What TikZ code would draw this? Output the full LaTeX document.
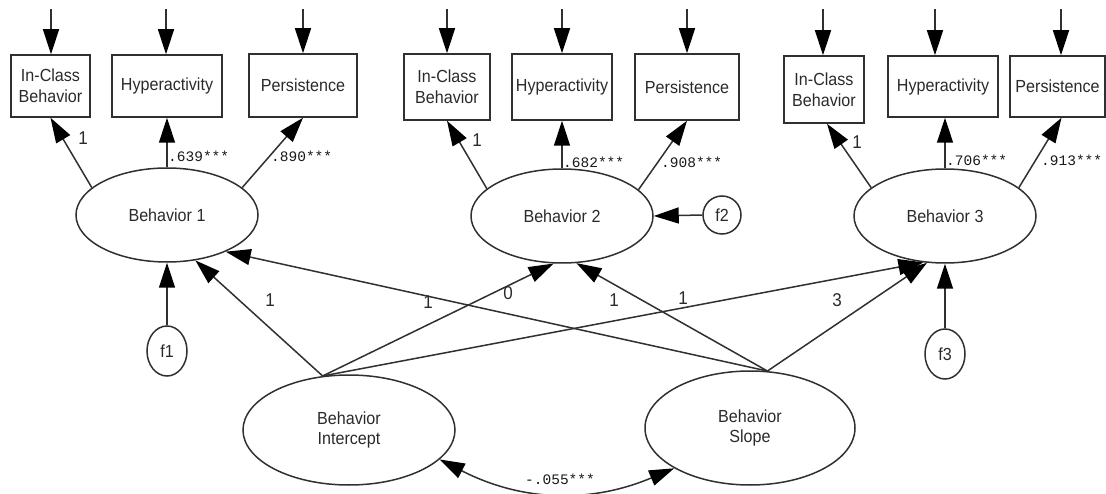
\documentclass[tikz,border=0pt]{standalone}
\usepackage{fontspec}
\setmainfont{Liberation Sans}
\newfontfamily\narrowsf{Liberation Sans}[FakeStretch=0.92]
\newfontfamily\monof{Liberation Mono}
\usetikzlibrary{arrows.meta,shapes.geometric}
\definecolor{lc}{HTML}{303030}
\definecolor{tc}{HTML}{2A2A2A}
\begin{document}
\begin{tikzpicture}[x=1pt,y=-1pt,
  ln/.style={draw=lc,line width=1.5pt},
  tip/.tip={Triangle[length=25pt,width=16pt,fill=black,color=black]},
  arr/.style={ln,-tip},
  dblarr/.style={ln,tip-tip},
  obs/.style={rectangle,draw=lc,line width=1.5pt,inner sep=0pt,text=tc,
    font=\narrowsf\fontsize{17.5}{21}\selectfont,align=center},
  lat/.style={ellipse,draw=lc,line width=1.5pt,inner sep=0pt,text=tc,
    font=\narrowsf\fontsize{17.5}{20}\selectfont,align=center},
  coef/.style={text=tc,font=\narrowsf\fontsize{18.5}{20}\selectfont,inner sep=0pt},
  load/.style={text=black!90,font=\monof\fontsize{14.5}{16}\selectfont,inner sep=0pt,anchor=west},
]
\useasboundingbox (0,0) rectangle (1106,494);

% ---------- observed indicators ----------
\node[obs,minimum width=79pt,minimum height=62pt] (ic1) at (50.5,86) {In-Class\\Behavior};
\node[obs,minimum width=110pt,minimum height=62pt] (hy1) at (167,86) {Hyperactivity};
\node[obs,minimum width=108pt,minimum height=63pt] (pe1) at (303,85.5) {Persistence};

\node[obs,minimum width=86pt,minimum height=66pt] (ic2) at (447,87) {In-Class\\Behavior};
\node[obs,minimum width=100pt,minimum height=66pt] (hy2) at (562,87) {Hyperactivity};
\node[obs,minimum width=104pt,minimum height=66pt] (pe2) at (687,87) {Persistence};

\node[obs,minimum width=80pt,minimum height=67pt] (ic3) at (824,89.5) {In-Class\\Behavior};
\node[obs,minimum width=110pt,minimum height=61pt] (hy3) at (943,86.5) {Hyperactivity};
\node[obs,minimum width=95pt,minimum height=61pt] (pe3) at (1057.5,86.5) {Persistence};

% ---------- residual arrows on indicators ----------
\coordinate (t1) at (51,9);
\coordinate (t2) at (166,9);
\coordinate (t3) at (303,9);
\coordinate (t4) at (447,9);
\coordinate (t5) at (562,9);
\coordinate (t6) at (687,9);
\coordinate (t7) at (823,9);
\coordinate (t8) at (935,9);
\coordinate (t9) at (1061,9);
\draw[arr] (t1) -- (t1 |- ic1.north);
\draw[arr] (t2) -- (t2 |- hy1.north);
\draw[arr] (t3) -- (t3 |- pe1.north);
\draw[arr] (t4) -- (t4 |- ic2.north);
\draw[arr] (t5) -- (t5 |- hy2.north);
\draw[arr] (t6) -- (t6 |- pe2.north);
\draw[arr] (t7) -- (t7 |- ic3.north);
\draw[arr] (t8) -- (t8 |- hy3.north);
\draw[arr] (t9) -- (t9 |- pe3.north);

% ---------- latent factors ----------
\node[lat,minimum width=182pt,minimum height=94pt] (b1) at (167,215) {Behavior 1};
\node[lat,minimum width=182pt,minimum height=94pt] (b2) at (562,216) {Behavior 2};
\node[lat,minimum width=182pt,minimum height=94pt] (b3) at (945,216) {Behavior 3};

\node[lat,minimum width=40pt,minimum height=50pt] (f1) at (167,351) {f1};
\node[lat,minimum width=38pt,minimum height=38pt] (f2) at (722,215) {f2};
\node[lat,minimum width=40pt,minimum height=50pt] (f3) at (945,354) {f3};

\node[lat,minimum width=212pt,minimum height=110pt] (int) at (349,430) {Behavior\\Intercept};
\node[lat,minimum width=210pt,minimum height=114pt] (slp) at (750,428) {Behavior\\Slope};

% ---------- loadings ----------
\draw[arr] (b1.160) -- (ic1.south);
\draw[arr] (b1.north) -- (hy1.south);
\draw[arr] (b1.20) -- (pe1.south);
\node[coef] (l11) at (83,138) {1};
\node[load] (l12) at (168,156) {.639***};
\node[load] (l13) at (271,156) {.890***};

\draw[arr] (b2.160) -- (ic2.south);
\draw[arr] (b2.north) -- (hy2.south);
\draw[arr] (b2.19) -- (pe2.south);
\node[coef] (l21) at (477,140) {1};
\node[load] (l22) at (563,162) {.682***};
\node[load] (l23) at (661,162) {.908***};

\draw[arr] (b3.159) -- ([xshift=3pt]ic3.south);
\draw[arr] (b3.north) -- (b3.north |- hy3.south);
\draw[arr] (b3.21) -- ([xshift=4pt]pe3.south);
\node[coef] (l31) at (857,142) {1};
\node[load] (l32) at (946,160) {.706***};
\node[load] (l33) at (1041,160) {.913***};

% ---------- disturbances ----------
\draw[arr] (f1.north) -- (b1.south);
\draw[arr] (f2.west) -- (b2.east);
\draw[arr] (f3.north) -- (b3.south);

% ---------- growth paths ----------
\draw[arr] (int.116) -- (b1.-58);
\draw[arr] (int.116) -- (b2.-100);
\draw[arr] (int.116) -- (b3.-115);
\draw[arr] (slp.73) -- (b1.-32);
\draw[arr] (slp.73) -- (b2.-73);
\draw[arr] (slp.73) -- (b3.-111);
\node[coef] (p1) at (270,300) {1};
\node[coef] (p2) at (508,293) {0};
\node[coef] (p3) at (683,298) {1};
\node[coef] (p4) at (428,302) {1};
\node[coef] (p5) at (614,300) {1};
\node[coef] (p6) at (837,300) {3};

% ---------- covariance ----------
\draw[dblarr] (int.-18) to[bend right=25] (slp.208);
\node[load,anchor=center] (cv) at (560,479) {-.055***};
\end{tikzpicture}
\end{document}
